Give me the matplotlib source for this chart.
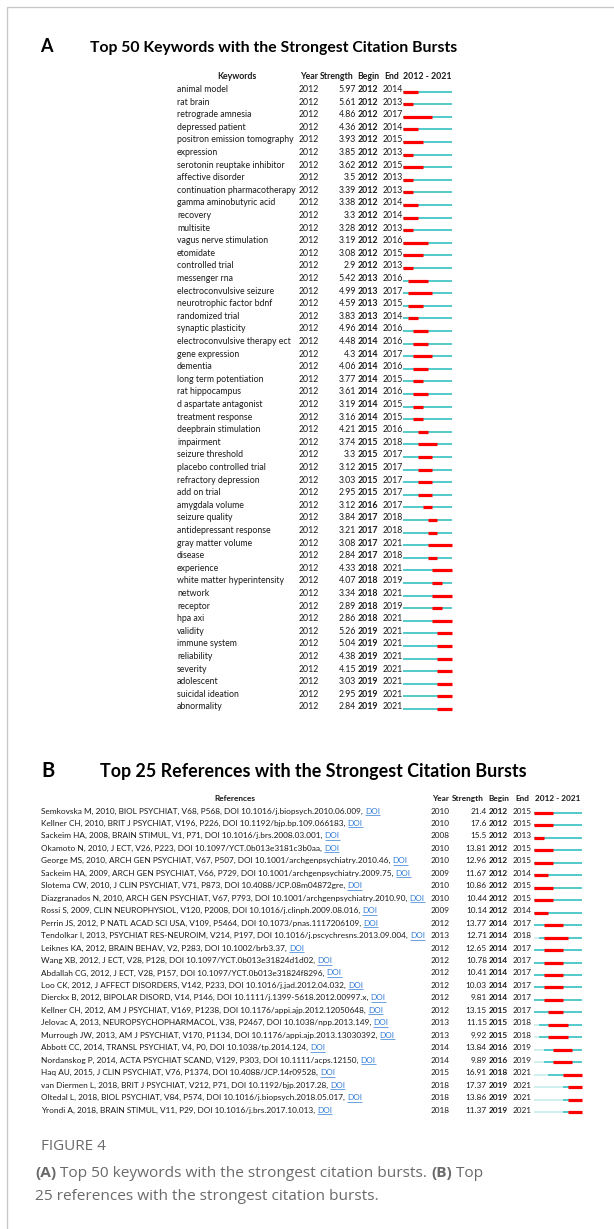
import matplotlib
matplotlib.use('Agg')
import matplotlib.pyplot as plt
from matplotlib.patches import Rectangle

plt.rcParams['font.family'] = ['Lato', 'DejaVu Sans']

# Keywords with the strongest citation bursts (panel A)
kw_names = ['animal model', 'rat brain', 'retrograde amnesia', 'depressed patient',
            'positron emission tomography', 'expression', 'serotonin reuptake inhibitor',
            'affective disorder', 'continuation pharmacotherapy', 'gamma aminobutyric acid',
            'recovery', 'multisite', 'vagus nerve stimulation', 'etomidate', 'controlled trial',
            'messenger rna', 'electroconvulsive seizure', 'neurotrophic factor bdnf',
            'randomized trial', 'synaptic plasticity', 'electroconvulsive therapy ect',
            'gene expression', 'dementia', 'long term potentiation', 'rat hippocampus',
            'd aspartate antagonist', 'treatment response', 'deepbrain stimulation',
            'impairment', 'seizure threshold', 'placebo controlled trial',
            'refractory depression', 'add on trial', 'amygdala volume', 'seizure quality',
            'antidepressant response', 'gray matter volume', 'disease', 'experience',
            'white matter hyperintensity', 'network', 'receptor', 'hpa axi', 'validity',
            'immune system', 'reliability', 'severity', 'adolescent', 'suicidal ideation',
            'abnormality']
kw_year = [2012] * 50
kw_strength = [5.97, 5.61, 4.86, 4.36, 3.93, 3.85, 3.62, 3.5, 3.39, 3.38,
               3.3, 3.28, 3.19, 3.08, 2.9, 5.42, 4.99, 4.59, 3.83, 4.96,
               4.48, 4.3, 4.06, 3.77, 3.61, 3.19, 3.16, 4.21, 3.74, 3.3,
               3.12, 3.03, 2.95, 3.12, 3.84, 3.21, 3.08, 2.84, 4.33, 4.07,
               3.34, 2.89, 2.86, 5.26, 5.04, 4.38, 4.15, 3.03, 2.95, 2.84]
kw_begin = [2012] * 15 + [2013] * 4 + [2014] * 8 + [2015] * 6 + [2016] + [2017] * 4 + [2018] * 5 + [2019] * 7
kw_end = [2014, 2013, 2017, 2014, 2015, 2013, 2015, 2013, 2013, 2014,
          2014, 2013, 2016, 2015, 2013, 2016, 2017, 2015, 2014, 2016,
          2016, 2017, 2016, 2015, 2016, 2015, 2015, 2016, 2018, 2017,
          2017, 2017, 2017, 2017, 2018, 2018, 2021, 2018, 2021, 2019,
          2021, 2019, 2021, 2021, 2021, 2021, 2021, 2021, 2021, 2021]

# References with the strongest citation bursts (panel B)
ref_labels = [
    'Semkovska M, 2010, BIOL PSYCHIAT, V68, P568, DOI 10.1016/j.biopsych.2010.06.009',
    'Kellner CH, 2010, BRIT J PSYCHIAT, V196, P226, DOI 10.1192/bjp.bp.109.066183',
    'Sackeim HA, 2008, BRAIN STIMUL, V1, P71, DOI 10.1016/j.brs.2008.03.001',
    'Okamoto N, 2010, J ECT, V26, P223, DOI 10.1097/YCT.0b013e3181c3b0aa',
    'George MS, 2010, ARCH GEN PSYCHIAT, V67, P507, DOI 10.1001/archgenpsychiatry.2010.46',
    'Sackeim HA, 2009, ARCH GEN PSYCHIAT, V66, P729, DOI 10.1001/archgenpsychiatry.2009.75',
    'Slotema CW, 2010, J CLIN PSYCHIAT, V71, P873, DOI 10.4088/JCP.08m04872gre',
    'Diazgranados N, 2010, ARCH GEN PSYCHIAT, V67, P793, DOI 10.1001/archgenpsychiatry.2010.90',
    'Rossi S, 2009, CLIN NEUROPHYSIOL, V120, P2008, DOI 10.1016/j.clinph.2009.08.016',
    'Perrin JS, 2012, P NATL ACAD SCI USA, V109, P5464, DOI 10.1073/pnas.1117206109',
    'Tendolkar I, 2013, PSYCHIAT RES-NEUROIM, V214, P197, DOI 10.1016/j.pscychresns.2013.09.004',
    'Leiknes KA, 2012, BRAIN BEHAV, V2, P283, DOI 10.1002/brb3.37',
    'Wang XB, 2012, J ECT, V28, P128, DOI 10.1097/YCT.0b013e31824d1d02',
    'Abdallah CG, 2012, J ECT, V28, P157, DOI 10.1097/YCT.0b013e31824f8296',
    'Loo CK, 2012, J AFFECT DISORDERS, V142, P233, DOI 10.1016/j.jad.2012.04.032',
    'Dierckx B, 2012, BIPOLAR DISORD, V14, P146, DOI 10.1111/j.1399-5618.2012.00997.x',
    'Kellner CH, 2012, AM J PSYCHIAT, V169, P1238, DOI 10.1176/appi.ajp.2012.12050648',
    'Jelovac A, 2013, NEUROPSYCHOPHARMACOL, V38, P2467, DOI 10.1038/npp.2013.149',
    'Murrough JW, 2013, AM J PSYCHIAT, V170, P1134, DOI 10.1176/appi.ajp.2013.13030392',
    'Abbott CC, 2014, TRANSL PSYCHIAT, V4, P0, DOI 10.1038/tp.2014.124',
    'Nordanskog P, 2014, ACTA PSYCHIAT SCAND, V129, P303, DOI 10.1111/acps.12150',
    'Haq AU, 2015, J CLIN PSYCHIAT, V76, P1374, DOI 10.4088/JCP.14r09528',
    'van Diermen L, 2018, BRIT J PSYCHIAT, V212, P71, DOI 10.1192/bjp.2017.28',
    'Oltedal L, 2018, BIOL PSYCHIAT, V84, P574, DOI 10.1016/j.biopsych.2018.05.017',
    'Yrondi A, 2018, BRAIN STIMUL, V11, P29, DOI 10.1016/j.brs.2017.10.013',
]
ref_year = [2010, 2010, 2008, 2010, 2010, 2009, 2010, 2010, 2009, 2012,
            2013, 2012, 2012, 2012, 2012, 2012, 2012, 2013, 2013, 2014,
            2014, 2015, 2018, 2018, 2018]
ref_strength = [21.4, 17.6, 15.5, 13.81, 12.96, 11.67, 10.86, 10.44, 10.14, 13.77,
                12.71, 12.65, 10.78, 10.41, 10.03, 9.81, 13.15, 11.15, 9.92, 13.84,
                9.89, 16.91, 17.37, 13.86, 11.37]
ref_begin = [2012] * 9 + [2014] * 7 + [2015] * 3 + [2016] * 2 + [2018] + [2019] * 3
ref_end = [2015, 2015, 2013, 2015, 2015, 2014, 2015, 2015, 2014, 2017,
           2018, 2017, 2017, 2017, 2017, 2017, 2017, 2018, 2018, 2019,
           2019, 2021, 2021, 2021, 2021]

first_year, last_year = 2012, 2021

RED = '#ff0000'
CYAN = '#45c6c6'
PALE = '#cdeeee'
LINK = '#2f7bd6'
TXT = '#1a1a1a'
CAP = '#6a6a6a'

fig = plt.figure(figsize=(6.14, 12.29), dpi=100)
ax = fig.add_axes([0, 0, 1, 1])
ax.set_xlim(0, 614)
ax.set_ylim(1229, 0)
ax.axis('off')
renderer = fig.canvas.get_renderer()

# card frame
fig.patches.append(Rectangle((7 / 614, -0.1), 1.2, (1229 - 7) / 1229 + 0.1, transform=fig.transFigure,
                             fill=False, edgecolor='#c8c8c8', lw=1.0))

KW_FS = 6.35
REF_FS = 5.95


def burst_bar(x0, x1, y, pub, begin, end):
    w = (x1 - x0) / (last_year - first_year + 1)
    start = max(pub, first_year)
    if pub > first_year:
        ax.hlines(y, x0, x0 + (start - first_year) * w, color=PALE, lw=1.3, capstyle='butt')
    ax.hlines(y, x0 + (start - first_year) * w, x1, color=CYAN, lw=1.3, capstyle='butt')
    ax.hlines(y, x0 + (begin - first_year) * w, x0 + (end - first_year + 1) * w,
              color=RED, lw=2.3, capstyle='butt')


def header(y, cols, fs):
    for x, s, ha in cols:
        ax.text(x, y, s, fontsize=fs, fontweight='bold', ha=ha, va='baseline', color=TXT)


# ---------------- panel A ----------------
ax.text(40, 52, 'A', fontsize=13, fontweight='bold', va='baseline')
ax.text(90, 52, 'Top 50 Keywords with the Strongest Citation Bursts', fontsize=11.3,
        fontweight='bold', va='baseline')
header(79, [(237, 'Keywords', 'center'), (300, 'Year', 'left'), (320, 'Strength', 'left'),
            (357, 'Begin', 'left'), (384, 'End', 'left'), (403, '2012 - 2021', 'left')], KW_FS)
dy = 12.6
for i, name in enumerate(kw_names):
    yb = 92 + i * dy
    ax.text(177, yb, name, fontsize=KW_FS, va='baseline', color=TXT)
    ax.text(299, yb, str(kw_year[i]), fontsize=KW_FS, va='baseline', color=TXT)
    ax.text(356, yb, f'{kw_strength[i]:g}', fontsize=KW_FS, va='baseline', ha='right', color=TXT)
    ax.text(358, yb, str(kw_begin[i]), fontsize=KW_FS, va='baseline', fontweight='bold', color=TXT)
    ax.text(383, yb, str(kw_end[i]), fontsize=KW_FS, va='baseline', color=TXT)
    burst_bar(403, 452, yb - 0.5, kw_year[i], kw_begin[i], kw_end[i])

# ---------------- panel B ----------------
ax.text(41, 777, 'B', fontsize=14.5, fontweight='bold', va='baseline')
ax.text(100, 777, 'Top 25 References with the Strongest Citation Bursts', fontsize=12.9,
        fontweight='bold', va='baseline')
header(801, [(235, 'References', 'center'), (432, 'Year', 'left'), (452, 'Strength', 'left'),
             (488, 'Begin', 'left'), (515, 'End', 'left'), (535, '2012 - 2021', 'left')], REF_FS)
dy = 12.46
for i, lab in enumerate(ref_labels):
    yb = 813.5 + i * dy
    t = ax.text(41, yb, lab + ', ', fontsize=REF_FS, va='baseline', color=TXT)
    xe = 41 + t.get_window_extent(renderer).width
    d = ax.text(xe, yb, 'DOI', fontsize=REF_FS, va='baseline', color=LINK)
    ax.hlines(yb + 1.5, xe, xe + d.get_window_extent(renderer).width, color=LINK, lw=0.5)
    ax.text(431, yb, str(ref_year[i]), fontsize=REF_FS, va='baseline', color=TXT)
    ax.text(487, yb, f'{ref_strength[i]:g}', fontsize=REF_FS, va='baseline', ha='right', color=TXT)
    ax.text(488.5, yb, str(ref_begin[i]), fontsize=REF_FS, va='baseline', fontweight='bold', color=TXT)
    ax.text(513, yb, str(ref_end[i]), fontsize=REF_FS, va='baseline', color=TXT)
    burst_bar(534, 582, yb - 0.5, ref_year[i], ref_begin[i], ref_end[i])

# ---------------- caption ----------------
ax.text(41, 1150, 'FIGURE 4', fontsize=11, color=CAP, va='baseline', family=['Open Sans', 'DejaVu Sans'])


def runs(x, y, parts):
    for s, w in parts:
        t = ax.text(x, y, s, fontsize=11.1, fontweight=w, color=CAP, va='baseline',
                    family=['Open Sans', 'DejaVu Sans'])
        x += t.get_window_extent(renderer).width


runs(35, 1177, [('(A)', 'bold'), (' Top 50 keywords with the strongest citation bursts. ', 'normal'),
                ('(B)', 'bold'), (' Top', 'normal')])
runs(35, 1200, [('25 references with the strongest citation bursts.', 'normal')])

fig.savefig('out.png', dpi=100)
